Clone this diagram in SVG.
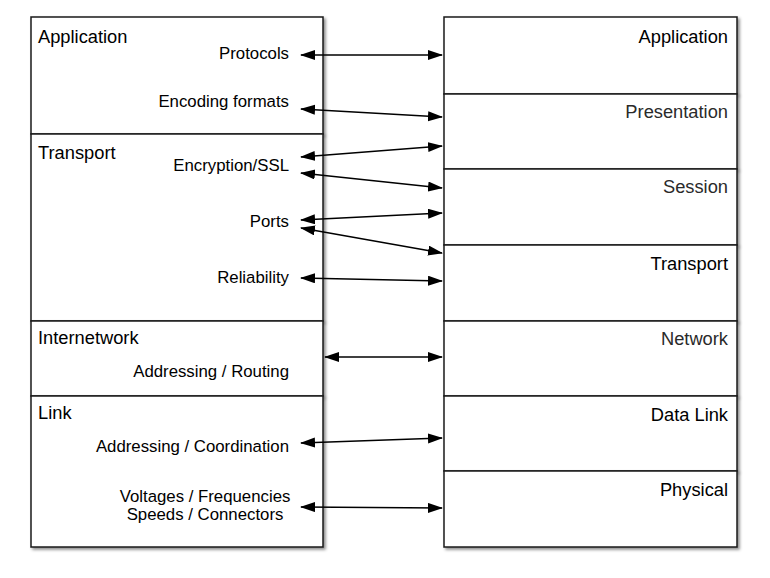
<svg xmlns="http://www.w3.org/2000/svg" width="770" height="578" viewBox="0 0 770 578">
<style>
.box{fill:#fff;stroke:#1a1a1a;stroke-width:1.5;filter:url(#sh)}
.t{font-family:"Liberation Sans",Arial,sans-serif;font-size:18.3px;fill:#000}
.tg{fill:#2a2a2a}
.i{font-family:"Liberation Sans",Arial,sans-serif;font-size:16.8px;fill:#000;text-anchor:end}
.r{text-anchor:end}
.c{stroke:#000;stroke-width:1.5;fill:none;marker-start:url(#ah);marker-end:url(#ah)}
</style>
<defs>
<filter id="sh" x="-10%" y="-10%" width="130%" height="130%">
<feDropShadow dx="2" dy="2" stdDeviation="1.8" flood-color="#000" flood-opacity="0.45"/>
</filter>
<marker id="ah" markerUnits="userSpaceOnUse" markerWidth="16" markerHeight="11" refX="14" refY="5" orient="auto-start-reverse">
<path d="M0,0 L15,5 L0,10 z" fill="#000"/>
</marker>
</defs>
<g id="left-application"><rect class="box" x="31" y="17" width="292" height="117"/><text class="t" x="38" y="43">Application</text><text class="i" x="289" y="59">Protocols</text><text class="i" x="289" y="107">Encoding formats</text></g>
<g id="left-transport"><rect class="box" x="31" y="134" width="292" height="187"/><text class="t" x="38" y="159">Transport</text><text class="i" x="289" y="171">Encryption/SSL</text><text class="i" x="289" y="227">Ports</text><text class="i" x="289" y="283">Reliability</text></g>
<g id="left-internetwork"><rect class="box" x="31" y="321" width="292" height="75"/><text class="t" x="38" y="344">Internetwork</text><text class="i" x="289" y="377">Addressing / Routing</text></g>
<g id="left-link"><rect class="box" x="31" y="396" width="292" height="151"/><text class="t" x="38" y="419">Link</text><text class="i" x="289" y="452">Addressing / Coordination</text><text class="i" x="205" y="502" style="text-anchor:middle">Voltages / Frequencies</text><text class="i" x="205" y="520" style="text-anchor:middle">Speeds / Connectors</text></g>
<g id="right-application"><rect class="box" x="444" y="17" width="293" height="77"/><text class="t r" x="728" y="43">Application</text></g>
<g id="right-presentation"><rect class="box" x="444" y="94" width="293" height="75"/><text class="t r tg" x="728" y="118">Presentation</text></g>
<g id="right-session"><rect class="box" x="444" y="169" width="293" height="76"/><text class="t r tg" x="728" y="193">Session</text></g>
<g id="right-transport"><rect class="box" x="444" y="245" width="293" height="76"/><text class="t r" x="728" y="270">Transport</text></g>
<g id="right-network"><rect class="box" x="444" y="321" width="293" height="75"/><text class="t r tg" x="728" y="345">Network</text></g>
<g id="right-datalink"><rect class="box" x="444" y="396" width="293" height="75"/><text class="t r" x="728" y="421">Data Link</text></g>
<g id="right-physical"><rect class="box" x="444" y="471" width="293" height="76"/><text class="t r" x="728" y="496">Physical</text></g>
<g id="connectors">
<line class="c" x1="301" y1="55" x2="442" y2="55"/>
<line class="c" x1="301" y1="109" x2="442" y2="117"/>
<line class="c" x1="301" y1="157" x2="442" y2="146"/>
<line class="c" x1="301" y1="173" x2="442" y2="188"/>
<line class="c" x1="301" y1="220" x2="442" y2="213"/>
<line class="c" x1="301" y1="228" x2="442" y2="253"/>
<line class="c" x1="301" y1="278" x2="442" y2="281"/>
<line class="c" x1="325" y1="357" x2="442" y2="357"/>
<line class="c" x1="301" y1="443" x2="442" y2="438"/>
<line class="c" x1="301" y1="507" x2="442" y2="508"/>
</g>
</svg>
